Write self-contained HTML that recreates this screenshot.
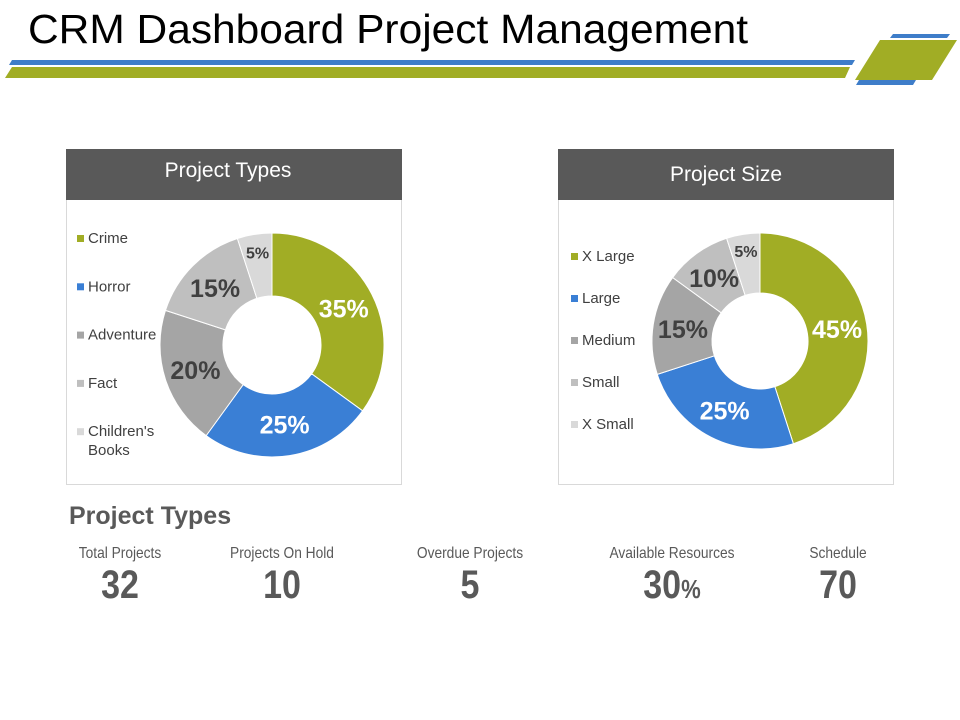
<!DOCTYPE html>
<html><head><meta charset="utf-8"><style>
body{margin:0;background:#fff;}
svg{display:block;font-family:"Liberation Sans",Arial,sans-serif;}
</style></head><body>
<svg id="s" width="960" height="720" viewBox="0 0 960 720">
<text x="28" y="43" font-size="41" fill="#000" textLength="720" lengthAdjust="spacingAndGlyphs">CRM Dashboard Project Management</text>
<polygon points="12,60 855,60 852,65 9,65" fill="#3E7DC9"/>
<polygon points="12,67 850,67 845,78 5,78" fill="#A1AD25"/>
<polygon points="893,34 950,34 947,38 890,38" fill="#3E7DC9"/>
<polygon points="880,40 957,40 932,80 855,80" fill="#A1AD25"/>
<polygon points="859,80 916,80 913,85 856,85" fill="#3E7DC9"/>

<g>
<rect x="66.5" y="149.5" width="335" height="335" fill="#fff" stroke="#d9d9d9"/>
<rect x="66" y="149" width="336" height="51" fill="#595959"/>
<text x="228" y="177" font-size="21" fill="#fff" text-anchor="middle">Project Types</text>
<g id="leg1"></g><g id="d1"></g>
</g>
<g>
<rect x="558.5" y="149.5" width="335" height="335" fill="#fff" stroke="#d9d9d9"/>
<rect x="558" y="149" width="336" height="51" fill="#595959"/>
<text x="726" y="181" font-size="21" fill="#fff" text-anchor="middle">Project Size</text>
<g id="leg2"></g><g id="d2"></g>
</g>

<text x="69" y="524" font-size="25" font-weight="bold" fill="#595959">Project Types</text>
<g id="stats"></g>
</svg>
<script>
const typeCats=["Crime","Horror","Adventure","Fact","Children's Books"];
const typeVals=[35,25,20,15,5];
const sizeCats=["X Large","Large","Medium","Small","X Small"];
const sizeVals=[45,25,15,10,5];
const statLabels=["Total Projects","Projects On Hold","Overdue Projects","Available Resources","Schedule"];
const statValues=["32","10","5","30","70"];
const statSuffix=["","","","%",""];
const colors=["#A1AD25","#3A7FD5","#A5A5A5","#BFBFBF","#D9D9D9"];
const NS="http://www.w3.org/2000/svg";
function mk(t,a,p){const e=document.createElementNS(NS,t);for(const k in a)e.setAttribute(k,a[k]);p.appendChild(e);return e;}
function donut(g,vals,cx,cy,ro,ri,prefix){
  const tot=vals.reduce((a,b)=>a+b,0);let a0=0;
  vals.forEach((v,i)=>{
    const a1=a0+v/tot*2*Math.PI;
    const P=(r,a)=>[cx+r*Math.sin(a),cy-r*Math.cos(a)];
    const [x1,y1]=P(ro,a0),[x2,y2]=P(ro,a1),[x3,y3]=P(ri,a1),[x4,y4]=P(ri,a0);
    const lg=(a1-a0)>Math.PI?1:0;
    const p=mk('path',{d:`M${x1},${y1}A${ro},${ro} 0 ${lg} 1 ${x2},${y2}L${x3},${y3}A${ri},${ri} 0 ${lg} 0 ${x4},${y4}Z`,fill:colors[i],stroke:'#fff','stroke-width':1},g);
    
    
    const am=(a0+a1)/2;const small=v<=5;
    const [lx,ly]=P(small?(ro+ri)/2+12:(ro+ri)/2,am);
    const t=mk('text',{x:lx,y:ly+(small?5:9),'text-anchor':'middle','font-size':small?16:25,'font-weight':'bold',fill:i<2?'#fff':'#404040'},g);
    t.textContent=v+'%';
    
    
    a0=a1;
  });
}
function legend(g,cats,x,y0,dy,prefix){
  cats.forEach((c,i)=>{
    const y=y0+i*dy;
    const r=mk('rect',{x:x,y:y-8,width:7,height:7,fill:colors[i]},g);
    
    
    const parts=c==="Children's Books"?["Children's","Books"]:[c];
    parts.forEach((s,j)=>{
      const t=mk('text',{x:x+11,y:y+j*19,'font-size':15,fill:'#404040'},g);
      t.textContent=s;
      
      
    });
  });
}
donut(document.getElementById('d1'),typeVals,272,345,112,49,'types');
donut(document.getElementById('d2'),sizeVals,760,341,108,48,'size');
legend(document.getElementById('leg1'),typeCats,77,243,48.3,'types');
legend(document.getElementById('leg2'),sizeCats,571,261,42,'size');
const sx=[120,282,470,672,838];
const sg=document.getElementById('stats');
statLabels.forEach((l,i)=>{
  const t=mk('text',{x:sx[i],y:558,'text-anchor':'middle','font-size':16,fill:'#595959',transform:`translate(${sx[i]} 0) scale(0.86 1) translate(${-sx[i]} 0)`},sg);
  t.textContent=l;
  
  
  const n=mk('text',{x:sx[i],y:598,'text-anchor':'middle','font-size':40,'font-weight':'bold',fill:'#595959',transform:`translate(${sx[i]} 0) scale(0.85 1) translate(${-sx[i]} 0)`},sg);
  n.textContent=statValues[i];
  if(statSuffix[i]){const ts=mk('tspan',{'font-size':26},n);ts.textContent=statSuffix[i];}
  
  
});
</script>
</body></html>
